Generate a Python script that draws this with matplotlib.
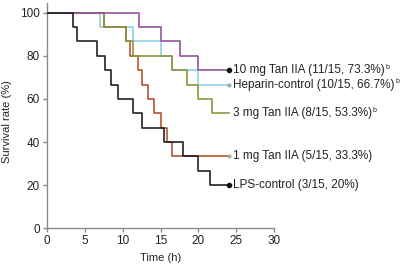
import matplotlib
matplotlib.use("Agg")
import matplotlib.pyplot as plt

plt.rcParams['font.family'] = ['Liberation Sans', 'DejaVu Sans']

n_total = 15
t_end = 24.0

groups = ["Heparin-control", "1 mg Tan IIA", "3 mg Tan IIA", "10 mg Tan IIA", "LPS-control"]
death_times = {
    "Heparin-control": [7.0, 11.4, 15.0, 16.5, 20.0],
    "1 mg Tan IIA": [7.5, 10.5, 11.0, 12.0, 12.5, 13.4, 14.1, 15.0, 15.8, 16.5],
    "3 mg Tan IIA": [7.5, 10.5, 11.4, 16.5, 18.5, 20.0, 21.8],
    "10 mg Tan IIA": [12.1, 15.0, 17.6, 20.0],
    "LPS-control": [3.5, 4.0, 6.6, 7.6, 8.4, 9.4, 11.4, 12.5, 15.5, 18.0, 20.0, 21.5],
}
labels = {
    "Heparin-control": "Heparin-control (10/15, 66.7%)",
    "1 mg Tan IIA": "1 mg Tan IIA (5/15, 33.3%)",
    "3 mg Tan IIA": "3 mg Tan IIA (8/15, 53.3%)",
    "10 mg Tan IIA": "10 mg Tan IIA (11/15, 73.3%)",
    "LPS-control": "LPS-control (3/15, 20%)",
}
superscripts = {
    "Heparin-control": "b",
    "1 mg Tan IIA": "",
    "3 mg Tan IIA": "b",
    "10 mg Tan IIA": "b",
    "LPS-control": "",
}
colors = {
    "Heparin-control": "#8fd3e3",
    "1 mg Tan IIA": "#b8552e",
    "3 mg Tan IIA": "#8c9440",
    "10 mg Tan IIA": "#93529c",
    "LPS-control": "#222222",
}
end_markers = {
    "Heparin-control": ("#9aaab0", 2.0),
    "1 mg Tan IIA": ("#aaaaaa", 2.0),
    "3 mg Tan IIA": None,
    "10 mg Tan IIA": ("#111111", 3.0),
    "LPS-control": ("#111111", 3.0),
}

xticks = [0, 5, 10, 15, 20, 25, 30]
yticks = [0, 20, 40, 60, 80, 100]

fig = plt.figure(figsize=(4.0, 2.65), dpi=100)
ax = fig.add_axes([0.1175, 0.1385, 0.5675, 0.8502])

for g in groups:
    ts = death_times[g]
    xs = [0.0] + ts + [t_end]
    surv = [100.0 * (n_total - i) / n_total for i in range(len(ts) + 1)]
    ys = surv + [surv[-1]]
    ax.step(xs, ys, where='post', color=colors[g], lw=1.2, zorder=3 if g != "Heparin-control" else 2)
    m = end_markers[g]
    if m is not None:
        ax.plot([t_end], [surv[-1]], 'o', color=m[0], ms=m[1], zorder=5)
    txt = ax.text(t_end + 0.6, surv[-1], labels[g], fontsize=8.5, va='center', ha='left', color='#222222')
    if superscripts[g]:
        ax.annotate(superscripts[g], xy=(1.0, 0.75), xycoords=txt, fontsize=5,
                    ha='left', va='center', color='#222222', xytext=(0.5, 0), textcoords='offset points')

ax.set_xlim(0, 30)
ax.set_ylim(0, 104.5)
ax.set_xticks(xticks)
ax.set_yticks(yticks)
for s in ['top', 'right']:
    ax.spines[s].set_visible(False)
for s in ['left', 'bottom']:
    ax.spines[s].set_color('#8a8a8a')
    ax.spines[s].set_linewidth(1.0)
ax.tick_params(direction='out', length=3, width=1.0, color='#8a8a8a', labelsize=8.5, labelcolor='#222222', pad=2)
ax.patch.set_alpha(0)

fig.text(160.5 / 400, 1 - 258 / 265, "Time (h)", ha='center', va='center', fontsize=8, color='#222222')
fig.text(7 / 400, 1 - 122 / 265, "Survival rate (%)", ha='center', va='center', rotation=90, fontsize=8, color='#222222')

fig.savefig("out.png", dpi=100)
